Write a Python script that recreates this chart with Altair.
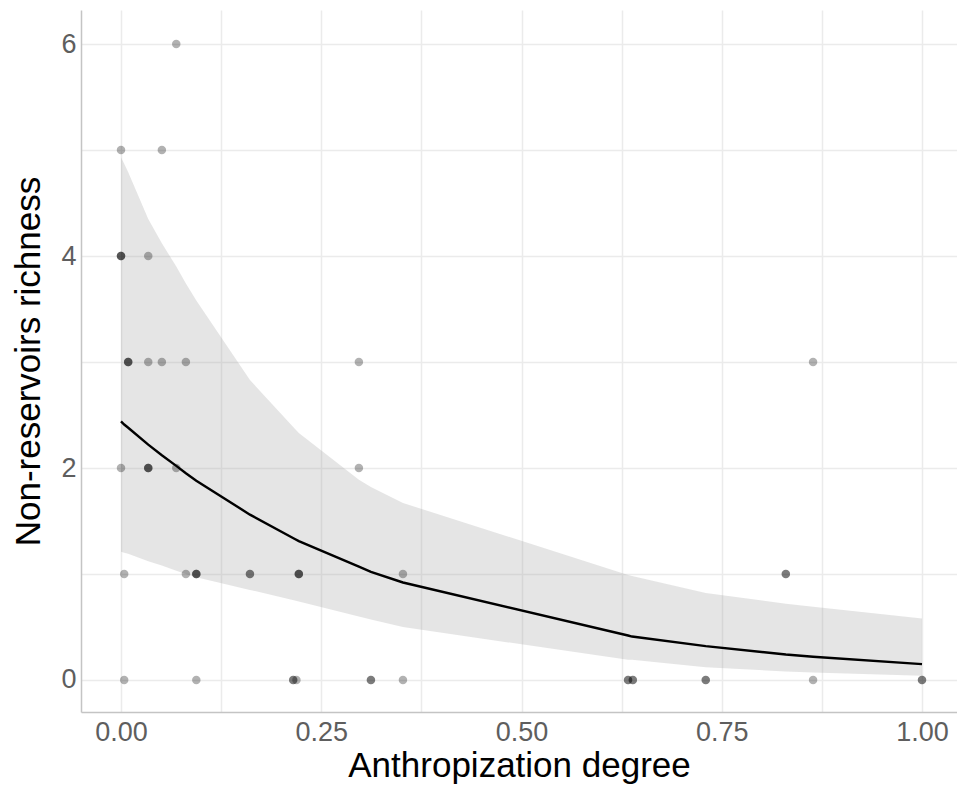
import altair as alt
import pandas as pd

# Observed points (duplicates = overlapping points that appear darker)
pts_x = [0.069,
         0.000, 0.051,
         0.000, 0.000, 0.000, 0.034,
         0.009, 0.009, 0.009, 0.034, 0.051, 0.081, 0.297, 0.864,
         0.000, 0.034, 0.034, 0.034, 0.069, 0.297,
         0.004, 0.081, 0.094, 0.094, 0.094, 0.161, 0.161, 0.222, 0.222, 0.222, 0.352, 0.830, 0.830,
         0.004, 0.094, 0.215, 0.215, 0.219, 0.312, 0.312, 0.352, 0.633, 0.633, 0.639, 0.639, 0.730, 0.730, 0.864, 1.000, 1.000]
pts_y = [6,
         5, 5,
         4, 4, 4, 4,
         3, 3, 3, 3, 3, 3, 3, 3,
         2, 2, 2, 2, 2, 2,
         1, 1, 1, 1, 1, 1, 1, 1, 1, 1, 1, 1, 1,
         0, 0, 0, 0, 0, 0, 0, 0, 0, 0, 0, 0, 0, 0, 0, 0, 0]

# Fitted curve and confidence band
fit_x = [0.0, 0.004, 0.009, 0.034, 0.051, 0.069, 0.081, 0.094, 0.161, 0.217, 0.222,
         0.297, 0.312, 0.352, 0.633, 0.638, 0.730, 0.830, 0.864, 1.0]
fit_y = [2.44, 2.41, 2.38, 2.22, 2.12, 2.02, 1.95, 1.88, 1.56, 1.33, 1.31,
         1.07, 1.02, 0.92, 0.42, 0.41, 0.32, 0.24, 0.22, 0.15]
fit_hi = [4.93, 4.87, 4.79, 4.35, 4.12, 3.90, 3.74, 3.58, 2.83, 2.37, 2.33,
          1.89, 1.82, 1.67, 0.99, 0.98, 0.82, 0.72, 0.69, 0.58]
fit_lo = [1.21, 1.20, 1.19, 1.12, 1.08, 1.03, 1.00, 0.97, 0.85, 0.75, 0.74,
          0.60, 0.57, 0.50, 0.19, 0.19, 0.12, 0.08, 0.07, 0.04]

x_grid = [0, 0.125, 0.25, 0.375, 0.5, 0.625, 0.75, 0.875, 1.0]
y_grid = [0, 1, 2, 3, 4, 5, 6]

pts_df = pd.DataFrame({"x": pts_x, "y": pts_y})
fit_df = pd.DataFrame({"x": fit_x, "y": fit_y, "lo": fit_lo, "hi": fit_hi})

W, H = 876, 702
xs = alt.Scale(domain=[-0.04994, 1.04369], nice=False, zero=False)
ys = alt.Scale(domain=[-0.3019, 6.3208], nice=False, zero=False)

xaxis = alt.Axis(values=x_grid, labelExpr="datum.value % 0.25 == 0 ? format(datum.value, '.2f') : ''",
                 labelPadding=7, titlePadding=3, labelFlush=False)
yaxis = alt.Axis(values=y_grid, labelExpr="datum.value % 2 == 0 ? format(datum.value, 'd') : ''",
                 labelPadding=5, titlePadding=14)

X = alt.X("x:Q", scale=xs, axis=xaxis, title="Anthropization degree")
Y = alt.Y("y:Q", scale=ys, axis=yaxis, title="Non-reservoirs richness")

band = alt.Chart(fit_df).mark_area(fill="#999999", fillOpacity=0.25).encode(
    x=X, y=alt.Y("lo:Q", scale=ys, axis=yaxis, title="Non-reservoirs richness"), y2="hi:Q")
points = alt.Chart(pts_df).mark_circle(color="black", opacity=0.3, size=72).encode(x=X, y=Y)
line = alt.Chart(fit_df).mark_line(color="black", strokeWidth=2.4).encode(x=X, y=Y)

chart = alt.layer(band, points, line).properties(
    width=W, height=H,
    autosize=alt.AutoSizeParams(type="none"),
    padding={"left": 73, "top": 2, "right": 0, "bottom": 76},
).configure_view(stroke=None).configure_axis(
    labelFont="Liberation Sans", titleFont="Liberation Sans",
    labelFontSize=27, titleFontSize=35, labelColor="#5e5e5e", titleColor="#000000",
    titleFontWeight="normal", ticks=False, domainColor="#c4c4c4", domainWidth=1.5,
    gridColor="#ebebeb", gridWidth=1.5,
)

chart.save("out.html", embed_options={"renderer": "svg", "actions": False})
